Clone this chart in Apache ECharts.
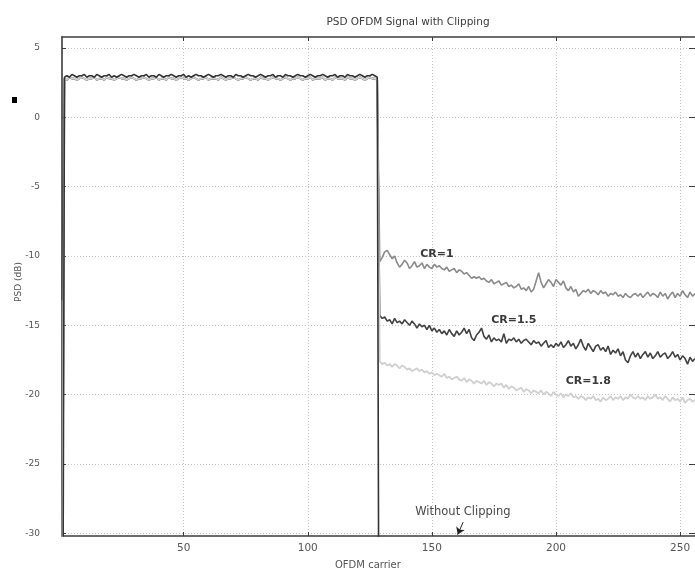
<!DOCTYPE html>
<html><head><meta charset="utf-8">
<script src="https://cdn.jsdelivr.net/npm/echarts@6/dist/echarts.min.js"></script>
<style>html,body{margin:0;padding:0;background:#fff}#c{width:695px;height:572px}</style>
</head><body><div id="c"></div>
<script>
const titleText = 'PSD OFDM Signal with Clipping';
const xName = 'OFDM carrier';
const yName = 'PSD (dB)';
const xTicks = [50, 100, 150, 200, 250];
const yTicks = [-30, -25, -20, -15, -10, -5, 0, 5];
const seriesNames = ['CR=1', 'CR=1.5', 'CR=1.8', 'Without Clipping'];

// carrier 1 (DC) values
const dcRef = -60, dcCR1 = -45, dcCR15 = -13.2, dcCR18 = -40;

// in-band PSD, carriers 2..128
const inBandRef = [
2.9,3.0,2.9,3.1,3.0,2.9,3.0,3.0,
3.1,2.9,3.0,3.0,2.9,3.1,3.0,2.9,
3.0,3.0,3.1,2.9,3.0,2.9,3.0,3.1,
3.0,2.9,3.0,3.0,3.1,3.0,2.9,3.0,
3.0,3.1,2.9,3.0,3.0,2.9,3.1,3.0,
2.9,3.0,3.0,3.1,3.0,2.9,3.0,3.0,
3.1,2.9,3.0,2.9,3.0,3.1,3.0,3.0,
2.9,3.0,3.1,3.0,2.9,3.0,3.0,3.1,
3.0,2.9,3.0,3.0,2.9,3.1,3.0,3.0,
2.9,3.0,3.1,3.0,3.0,2.9,3.0,3.1,
3.0,2.9,3.0,3.0,3.1,2.9,3.0,3.0,
2.9,3.1,3.0,3.0,2.9,3.0,3.1,3.0,
3.0,2.9,3.0,3.1,3.0,2.9,3.0,3.0,
3.1,3.0,2.9,3.0,3.0,3.1,2.9,3.0,
3.0,2.9,3.1,3.0,3.0,2.9,3.0,3.1,
3.0,2.9,3.0,3.0,3.1,3.0,2.9];
const inBandClipped = [
2.8,2.7,2.9,2.8,2.8,2.7,2.8,2.9,
2.8,2.7,2.8,2.8,2.9,2.7,2.8,2.8,
2.7,2.9,2.8,2.8,2.7,2.8,2.9,2.8,
2.8,2.7,2.8,2.9,2.8,2.7,2.8,2.8,
2.9,2.8,2.7,2.8,2.8,2.9,2.7,2.8,
2.8,2.7,2.9,2.8,2.8,2.7,2.8,2.9,
2.8,2.8,2.7,2.8,2.9,2.8,2.7,2.8,
2.8,2.9,2.7,2.8,2.8,2.8,2.7,2.9,
2.8,2.7,2.8,2.8,2.9,2.8,2.7,2.8,
2.8,2.9,2.8,2.7,2.8,2.8,2.7,2.9,
2.8,2.8,2.7,2.8,2.9,2.8,2.8,2.7,
2.8,2.9,2.8,2.7,2.8,2.8,2.9,2.8,
2.7,2.8,2.8,2.9,2.7,2.8,2.8,2.8,
2.9,2.7,2.8,2.8,2.7,2.9,2.8,2.8,
2.8,2.7,2.9,2.8,2.8,2.7,2.8,2.9,
2.8,2.7,2.8,2.9,2.8,2.8,2.7];

// out-of-band PSD, carriers 129..256
const outCR1 = [
-10.4,-10.1,-9.7,-9.6,-9.9,-10.2,-10.0,-10.5,
-10.8,-10.6,-10.3,-10.5,-10.9,-10.7,-10.4,-10.8,
-10.7,-10.5,-10.9,-10.6,-10.8,-10.9,-10.6,-10.8,
-10.7,-10.9,-11.0,-10.8,-11.1,-11.0,-10.9,-11.2,
-11.0,-11.1,-11.3,-11.2,-11.4,-11.6,-11.5,-11.6,
-11.5,-11.7,-11.6,-11.8,-11.9,-11.7,-12.0,-11.9,
-11.8,-12.1,-12.0,-11.9,-12.2,-12.1,-12.3,-12.2,
-12.0,-12.4,-12.3,-12.5,-12.2,-12.6,-12.4,-11.8,
-11.2,-11.9,-12.3,-12.0,-11.7,-11.9,-12.2,-11.7,
-11.9,-12.1,-11.8,-12.3,-12.5,-12.2,-12.6,-12.4,
-12.9,-12.7,-12.5,-12.6,-12.4,-12.7,-12.5,-12.6,
-12.8,-12.5,-12.7,-12.6,-12.9,-12.7,-12.8,-12.6,
-12.9,-12.8,-13.0,-12.7,-12.9,-13.0,-12.8,-12.7,
-12.9,-12.7,-13.0,-12.8,-12.6,-12.9,-12.7,-12.8,
-13.0,-12.6,-12.9,-12.7,-13.1,-12.8,-12.6,-13.0,
-12.7,-12.9,-12.5,-12.8,-13.0,-12.6,-12.9,-12.7];
const outCR15 = [
-14.3,-14.5,-14.4,-14.7,-14.6,-14.9,-14.5,-14.8,
-14.7,-14.9,-14.6,-14.8,-15.0,-14.7,-14.9,-15.2,
-14.9,-15.1,-15.0,-15.3,-15.0,-15.4,-15.2,-15.5,
-15.3,-15.6,-15.4,-15.7,-15.3,-15.6,-15.8,-15.4,
-15.7,-15.5,-15.2,-15.6,-15.3,-15.9,-16.1,-15.7,
-15.5,-15.2,-15.8,-16.0,-15.7,-16.2,-15.9,-16.1,
-16.0,-16.2,-15.6,-16.3,-16.0,-16.1,-15.9,-16.2,
-16.0,-16.3,-16.1,-16.0,-16.2,-16.4,-16.1,-16.3,
-16.2,-16.5,-16.3,-16.1,-16.6,-16.4,-16.6,-16.3,
-16.5,-16.2,-16.6,-16.4,-16.1,-16.5,-16.3,-16.7,
-16.4,-16.0,-16.5,-16.8,-16.3,-16.6,-16.9,-16.5,
-16.4,-16.8,-16.6,-16.9,-16.5,-17.1,-16.8,-17.0,
-16.7,-17.2,-16.9,-17.5,-17.7,-17.2,-16.9,-17.3,
-17.0,-17.4,-17.1,-16.9,-17.3,-17.0,-17.4,-17.2,
-16.9,-17.3,-17.1,-17.0,-17.4,-17.2,-16.9,-17.3,
-17.1,-17.5,-17.2,-17.4,-17.8,-17.3,-17.6,-17.4];
const outCR18 = [
-17.6,-17.8,-17.7,-17.9,-17.8,-18.0,-17.8,-17.9,
-18.1,-17.9,-18.0,-18.2,-18.1,-18.3,-18.2,-18.1,
-18.3,-18.2,-18.4,-18.3,-18.5,-18.4,-18.6,-18.5,
-18.6,-18.7,-18.5,-18.8,-18.7,-18.9,-18.8,-18.7,
-18.9,-19.0,-18.8,-19.1,-18.9,-19.0,-19.2,-19.0,
-19.1,-19.2,-19.0,-19.3,-19.1,-19.2,-19.4,-19.2,
-19.3,-19.2,-19.5,-19.3,-19.6,-19.4,-19.5,-19.7,
-19.6,-19.5,-19.8,-19.6,-19.7,-19.9,-19.7,-19.8,
-19.9,-19.7,-20.0,-19.8,-19.9,-20.1,-19.8,-20.0,
-20.1,-19.9,-20.2,-20.0,-20.1,-19.9,-20.2,-20.1,
-20.3,-20.1,-20.2,-20.4,-20.2,-20.3,-20.1,-20.4,
-20.3,-20.5,-20.2,-20.4,-20.3,-20.1,-20.4,-20.2,
-20.3,-20.1,-20.4,-20.2,-20.3,-20.0,-20.2,-20.3,
-20.1,-20.3,-20.2,-20.4,-20.1,-20.3,-20.2,-20.0,
-20.3,-20.2,-20.4,-20.1,-20.3,-20.5,-20.2,-20.4,
-20.3,-20.5,-20.2,-20.6,-20.4,-20.3,-20.5,-20.4];
// without clipping: out-of-band below the plotted range (carriers 129 and 256)
const outRefCarriers = [129, 256];
const outRef = [-60, -60];

function pairs(start, arr) { return arr.map((v, i) => [start + i, v]); }
function build(dc, inBand, outBand) {
  return [[1, dc]].concat(pairs(2, inBand), pairs(129, outBand));
}
const dataCR1 = build(dcCR1, inBandClipped, outCR1);
const dataCR15 = build(dcCR15, inBandClipped, outCR15);
const dataCR18 = build(dcCR18, inBandClipped, outCR18);
const dataRef = [[1, dcRef]].concat(pairs(2, inBandRef), outRefCarriers.map((c, i) => [c, outRef[i]]));

const font = 'DejaVu Sans, Liberation Sans, sans-serif';
const labelStyle = { fontFamily: font, fontSize: 11, fontWeight: 'bold', color: '#3a3a3a' };
function tag(text, coord) {
  return { coord: coord, symbol: 'rect', symbolSize: 0,
    label: Object.assign({ show: true, position: 'inside', formatter: text }, labelStyle) };
}

const chart = echarts.init(document.getElementById('c'), null, { renderer: 'canvas' });
const gridLine = { show: true, lineStyle: { color: '#c4c4c4', type: [1, 2], width: 1 } };
const axisColor = '#3c3c3c';
chart.setOption({
  animation: false,
  backgroundColor: '#fff',
  title: { text: titleText, left: 403, top: 12, textAlign: 'center',
    textStyle: { fontFamily: font, fontSize: 10.5, fontWeight: 'normal', color: '#3a3a3a' } },
  grid: { left: 62, top: 37, width: 637, height: 499, containLabel: false },
  xAxis: [{
    type: 'value', min: 1, max: 256,
    axisLine: { show: true, onZero: false, lineStyle: { color: axisColor, width: 1.6 } },
    axisTick: { show: true, inside: true, length: 4, customValues: xTicks, lineStyle: { color: axisColor } },
    axisLabel: { show: true, customValues: xTicks, margin: 7, fontFamily: font, fontSize: 10.5, color: '#555' },
    splitLine: gridLine
  }, {
    type: 'value', min: 1, max: 256, position: 'top',
    axisLine: { show: true, onZero: false, lineStyle: { color: axisColor, width: 1.6 } },
    axisTick: { show: true, inside: true, length: 4, customValues: xTicks, lineStyle: { color: axisColor } },
    axisLabel: { show: false }, splitLine: { show: false }
  }],
  yAxis: [{
    type: 'value', min: -30.2, max: 5.8,
    axisLine: { show: true, onZero: false, lineStyle: { color: axisColor, width: 1.6 } },
    axisTick: { show: true, inside: true, length: 4, customValues: yTicks, lineStyle: { color: axisColor } },
    axisLabel: { show: true, customValues: yTicks, margin: 22, fontFamily: font, fontSize: 9, color: '#555' },
    splitLine: gridLine
  }, {
    type: 'value', min: -30.2, max: 5.8, position: 'right',
    axisLine: { show: false },
    axisTick: { show: true, inside: true, length: 6, customValues: yTicks, lineStyle: { color: axisColor } },
    axisLabel: { show: false }, splitLine: { show: false }
  }],
  graphic: [
    { type: 'text', left: 335, top: 560, style: { text: xName, font: '10px ' + font, fill: '#555' } },
    { type: 'text', x: 19, y: 282, rotation: Math.PI / 2,
      style: { text: yName, font: '9px ' + font, fill: '#555', align: 'center', verticalAlign: 'middle' } },
    { type: 'rect', shape: { x: 12, y: 97, width: 5, height: 6 }, style: { fill: '#000' } }
  ],
  series: [
    { name: seriesNames[0], type: 'line', data: dataCR1, showSymbol: false, symbol: 'none', clip: true,
      lineStyle: { color: '#8a8a8a', width: 1.6 },
      markPoint: { silent: true, data: [tag(seriesNames[0], [152, -9.9])] } },
    { name: seriesNames[1], type: 'line', data: dataCR15, showSymbol: false, symbol: 'none', clip: true,
      lineStyle: { color: '#424242', width: 1.6 },
      markPoint: { silent: true, data: [tag(seriesNames[1], [183, -14.6])] } },
    { name: seriesNames[2], type: 'line', data: dataCR18, showSymbol: false, symbol: 'none', clip: true,
      lineStyle: { color: '#d0d0d0', width: 1.8 },
      markPoint: { silent: true, data: [tag(seriesNames[2], [213, -19.0])] } },
    { name: seriesNames[3], type: 'line', data: dataRef, showSymbol: false, symbol: 'none', clip: true,
      lineStyle: { color: '#333', width: 1.6 },
      markPoint: { silent: true, data: [{ coord: [162.5, -28.5], symbol: 'rect', symbolSize: 0,
        label: { show: true, position: 'inside', formatter: seriesNames[3], fontFamily: font, fontSize: 11.5, color: '#4a4a4a' } }] },
      markLine: { silent: true, symbol: ['none', 'arrow'], symbolSize: 7,
        lineStyle: { color: '#222', width: 1, type: 'solid' }, label: { show: false },
        data: [[{ coord: [162.6, -29.2] }, { coord: [160.4, -30.1] }]] } }
  ]
});
</script></body></html>
